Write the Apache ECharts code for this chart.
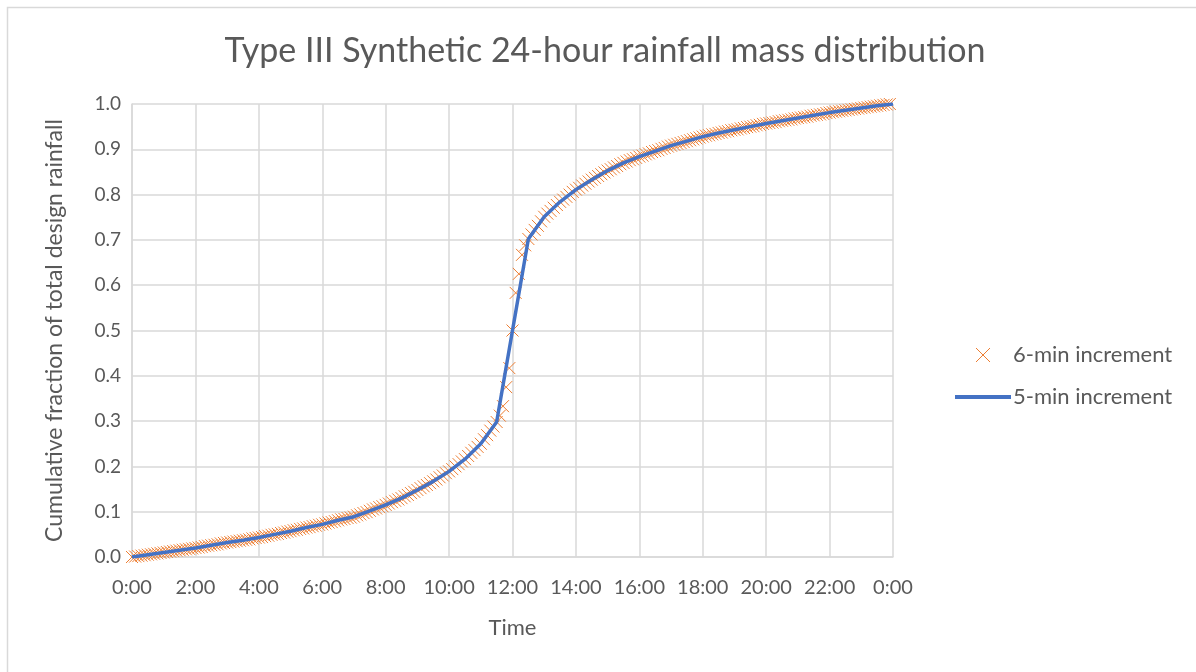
<!DOCTYPE html>
<html>
<head>
<meta charset="utf-8">
<script src="https://cdn.jsdelivr.net/npm/echarts@6/dist/echarts.min.js"></script>
<style>
html,body{margin:0;padding:0;background:#fff;}
#chart{width:1196px;height:672px;}
</style>
</head>
<body>
<div id="chart"></div>
<script>
// Time in hours for 6-min (0.1 h) series: index * 0.1
var sixMinStepHours = 0.1;
var sixMinValues = [
0.000,0.001,0.002,0.003,0.004, 0.005,0.006,0.007,0.008,0.009,
0.010,0.011,0.012,0.013,0.014, 0.015,0.016,0.017,0.018,0.019,
0.020,0.021,0.022,0.024,0.025, 0.026,0.027,0.028,0.030,0.031,
0.032,0.033,0.034,0.035,0.036, 0.037,0.038,0.039,0.041,0.042,
0.043,0.044,0.046,0.047,0.049, 0.050,0.051,0.053,0.054,0.056,
0.057,0.059,0.060,0.062,0.063, 0.065,0.066,0.068,0.069,0.071,
0.072,0.074,0.076,0.077,0.079, 0.081,0.083,0.084,0.086,0.087,
0.089,0.092,0.094,0.097,0.099, 0.102,0.105,0.107,0.110,0.112,
0.115,0.118,0.121,0.124,0.127, 0.130,0.134,0.137,0.141,0.144,
0.148,0.152,0.156,0.159,0.163, 0.167,0.171,0.176,0.180,0.185,
0.189,0.194,0.200,0.205,0.211, 0.216,0.223,0.230,0.236,0.243,
0.250,0.260,0.269,0.279,0.288, 0.298,0.312,0.333,0.375,0.417,
0.500,0.583,0.625,0.667,0.688, 0.702,0.712,0.722,0.731,0.741,
0.751,0.758,0.764,0.771,0.777, 0.784,0.789,0.795,0.800,0.806,
0.811,0.815,0.820,0.824,0.829, 0.833,0.837,0.841,0.845,0.849,
0.853,0.856,0.860,0.863,0.867, 0.870,0.873,0.876,0.878,0.881,
0.884,0.886,0.889,0.891,0.894, 0.896,0.898,0.901,0.903,0.906,
0.908,0.910,0.912,0.914,0.916, 0.918,0.920,0.922,0.924,0.926,
0.928,0.930,0.931,0.933,0.934, 0.936,0.937,0.939,0.940,0.942,
0.943,0.944,0.946,0.947,0.949, 0.950,0.951,0.953,0.954,0.956,
0.957,0.958,0.959,0.960,0.962, 0.963,0.964,0.965,0.966,0.968,
0.969,0.970,0.971,0.972,0.974, 0.975,0.976,0.977,0.978,0.980,
0.981,0.982,0.983,0.984,0.985, 0.986,0.987,0.988,0.989,0.990,
0.991,0.992,0.993,0.994,0.995, 0.996,0.997,0.998,0.999,
1.000
];

// 5-min increment curve (plotted through its half-hour break points)
var lineHours = [0,0.5,1,1.5,2,2.5,3,3.5,4,4.5,5,5.5,6,6.5,7,7.5,8,8.5,9,9.5,10,10.5,11,11.5,12,12.5,13,13.5,14,14.5,15,15.5,16,16.5,17,17.5,18,18.5,19,19.5,20,20.5,21,21.5,22,22.5,23,23.5,24];
var lineValues = [0.000,0.005,0.010,0.015,0.020,0.026,0.032,0.037,0.043,0.050,0.057,0.065,0.072,0.081,0.089,0.102,0.115,0.130,0.148,0.167,0.189,0.216,0.250,0.298,0.500,0.702,0.751,0.784,0.811,0.833,0.853,0.870,0.884,0.896,0.908,0.918,0.928,0.936,0.943,0.950,0.957,0.963,0.969,0.975,0.981,0.986,0.991,0.996,1.000];

var titleText = 'Type III Synthetic 24-hour rainfall mass distribution';
var xAxisTitle = 'Time';
var yAxisTitle = 'Cumulative fraction of total design rainfall';
var seriesNames = ['6-min increment', '5-min increment'];

var FONT = 'Lato';
var TXT = '#595959';
var GRID = '#d9d9d9';

var scatterData = sixMinValues.map(function (v, i) { return [i * sixMinStepHours, v]; });
var lineData = lineHours.map(function (h, i) { return [h, lineValues[i]]; });

var xPath = 'path://M0,0L10,10M10,0L0,10';

var chart = echarts.init(document.getElementById('chart'), null, {renderer: 'canvas'});
chart.setOption({
  animation: false,
  backgroundColor: '#ffffff',
  graphic: [{
    type: 'rect', left: 5, top: 5, shape: {width: 1210, height: 700},
    style: {fill: 'none', stroke: '#d9d9d9', lineWidth: 1.5}, silent: true
  }],
  title: {
    text: titleText, left: 600, top: 29, textAlign: 'center',
    textStyle: {fontFamily: FONT, fontWeight: 'normal', fontSize: 34, color: TXT}
  },
  legend: {
    orient: 'vertical', left: 948, top: 339, itemGap: 20,
    itemWidth: 56, itemHeight: 14,
    textStyle: {fontFamily: FONT, fontSize: 22, color: TXT, padding: [0,0,0,-3]},
    data: [
      {name: seriesNames[0], icon: xPath, itemStyle: {color: 'none', borderColor: '#ED7D31', borderWidth: 1}},
      {name: seriesNames[1], itemStyle: {opacity: 0}, lineStyle: {color: '#4472C4', width: 4}}
    ]
  },
  grid: {left: 132, right: 303, top: 104, bottom: 115},
  xAxis: {
    type: 'value', min: 0, max: 24, interval: 2,
    name: xAxisTitle, nameLocation: 'middle', nameGap: 60,
    nameTextStyle: {fontFamily: FONT, fontSize: 22, color: TXT},
    axisLine: {show: true, lineStyle: {color: GRID, width: 1.5}},
    axisTick: {show: false},
    axisLabel: {fontFamily: FONT, fontSize: 20, color: TXT, margin: 21,
      formatter: function (v) { return (v % 24) + ':00'; }},
    splitLine: {show: true, lineStyle: {color: GRID, width: 1.5}}
  },
  yAxis: {
    type: 'value', min: 0, max: 1, interval: 0.1,
    name: yAxisTitle, nameLocation: 'middle', nameGap: 66, nameRotate: 90,
    nameTextStyle: {fontFamily: FONT, fontSize: 23, color: TXT},
    axisLine: {show: true, lineStyle: {color: GRID, width: 1.5}},
    axisTick: {show: false},
    axisLabel: {fontFamily: FONT, fontSize: 19, color: TXT, margin: 11,
      formatter: function (v) { return v.toFixed(1); }},
    splitLine: {show: true, lineStyle: {color: GRID, width: 1.5}}
  },
  series: [
    {
      name: seriesNames[0], type: 'scatter', data: scatterData,
      symbol: xPath, symbolSize: 12,
      itemStyle: {color: 'none', borderColor: '#ED7D31', borderWidth: 1, opacity: 1},
      z: 2
    },
    {
      name: seriesNames[1], type: 'line', data: lineData,
      showSymbol: false, symbol: 'none',
      lineStyle: {color: '#4472C4', width: 3.5},
      itemStyle: {color: '#4472C4'},
      z: 3
    }
  ]
});
</script>
</body>
</html>
